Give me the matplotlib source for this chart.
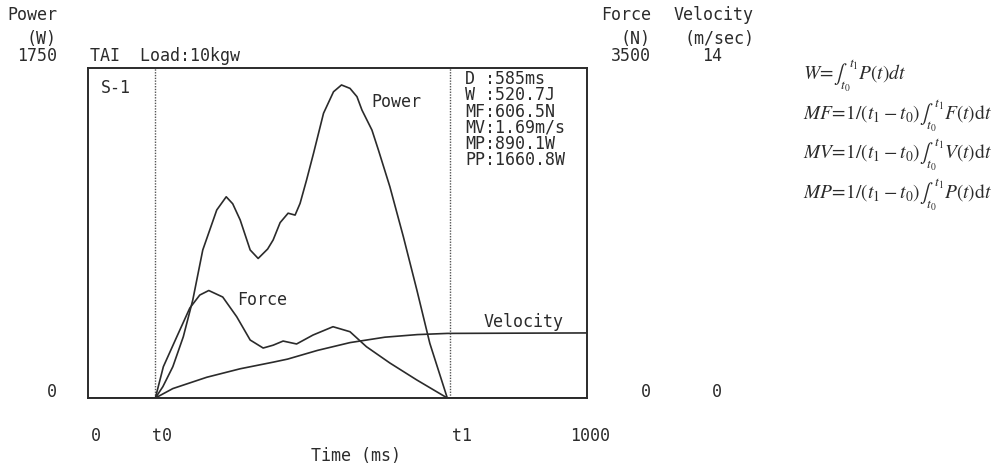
import matplotlib
matplotlib.use("Agg")
import matplotlib.pyplot as plt

plt.rcParams['mathtext.fontset'] = 'stix'

# ---- data ----
t0, t1 = 135, 720
power_t = [0, 135, 150, 170, 191, 210, 230, 258, 277, 290, 305, 325, 341, 360, 371, 385, 401, 415, 425, 438, 452, 472, 492, 508, 525, 539, 549, 569, 582, 605, 632, 659, 685, 720, 1000]
power_w = [0, 0, 60, 166, 325, 520, 785, 997, 1067, 1030, 944, 785, 740, 790, 838, 930, 980, 970, 1032, 1156, 1298, 1510, 1624, 1660, 1642, 1598, 1527, 1421, 1315, 1120, 855, 573, 290, 0, 0]

force_t = [0, 135, 151, 178, 204, 224, 242, 270, 298, 325, 351, 371, 391, 418, 451, 491, 525, 558, 605, 659, 720, 1000]
force_n = [0, 0, 332, 650, 954, 1092, 1140, 1071, 862, 615, 530, 560, 604, 573, 668, 756, 703, 544, 371, 191, 0, 0]

vel_t = [0, 135, 170, 238, 305, 371, 400, 460, 525, 595, 660, 720, 850, 1000]
vel_v = [0, 0, 0.40, 0.88, 1.24, 1.52, 1.65, 2.02, 2.35, 2.58, 2.69, 2.74, 2.75, 2.76]

stats = ["D :585ms", "W :520.7J", "MF:606.5N", "MV:1.69m/s", "MP:890.1W", "PP:1660.8W"]
x_tick_labels = ["0", "t0", "t1", "1000"]
formulas = [r"$W\!=\!\int_{t_0}^{\,t_1}P(t)dt$",
            r"$MF\!=\!1/(t_1-t_0)\int_{t_0}^{\,t_1}F(t)\mathrm{d}t$",
            r"$MV\!=\!1/(t_1-t_0)\int_{t_0}^{\,t_1}V(t)\mathrm{d}t$",
            r"$MP\!=\!1/(t_1-t_0)\int_{t_0}^{\,t_1}P(t)\mathrm{d}t$"]

W, H = 998, 467
fig = plt.figure(figsize=(W / 100, H / 100), dpi=100)
fig.patch.set_facecolor("white")

mono = "DejaVu Sans Mono"
col = "#2b2b2b"
fs = 12


def ft(x, y, s, ha="left", va="center", **kw):
    kw.setdefault("family", mono)
    kw.setdefault("fontsize", fs)
    kw.setdefault("color", col)
    fig.text(x / W, 1 - y / H, s, ha=ha, va=va, **kw)


L, R, T, B = 88, 587, 68, 398
ax = fig.add_axes([L / W, 1 - B / H, (R - L) / W, (B - T) / H])
axf = ax.twinx()
axv = ax.twinx()
for a in (ax, axf, axv):
    a.set_xlim(0, 1000)
    a.set_xticks([])
    a.set_yticks([])
ax.set_ylim(0, 1750)
axf.set_ylim(0, 3500)
axv.set_ylim(0, 14)
for a in (axf, axv):
    for s in a.spines.values():
        s.set_visible(False)
for s in ax.spines.values():
    s.set_linewidth(1.4)
    s.set_color(col)

ax.axvline(t0, color="#555555", lw=1.0, ls=(0, (1, 1)))
ax.axvline(t1 + 6, color="#555555", lw=1.0, ls=(0, (1, 1)))

ax.plot(power_t, power_w, color=col, lw=1.2)
axf.plot(force_t, force_n, color=col, lw=1.2)
axv.plot(vel_t, vel_v, color=col, lw=1.2)

# header texts
ft(57, 15, "Power", ha="right")
ft(57, 39, "(W)", ha="right")
ft(57, 56, "1750", ha="right")
ft(57, 392, "0", ha="right")
ft(90, 56, "TAI  Load:10kgw")
ft(651, 15, "Force", ha="right")
ft(651, 39, "(N)", ha="right")
ft(651, 56, "3500", ha="right")
ft(651, 392, "0", ha="right")
ft(754, 15, "Velocity", ha="right")
ft(754, 39, "(m/sec)", ha="right")
ft(722, 56, "14", ha="right")
ft(722, 392, "0", ha="right")

# inside labels
ft(101, 88, "S-1")
ft(371, 102, "Power")
ft(237, 300, "Force")
ft(484, 322, "Velocity")
for i, s in enumerate(stats):
    ft(465, 79 + i * 16.3, s)

# x labels
xl_pos = [(91, "left"), (152, "left"), (452, "left"), (610, "right")]
for (x, ha), s in zip(xl_pos, x_tick_labels):
    ft(x, 436, s, ha=ha)
ft(356, 456, "Time (ms)", ha="center")

# formulas
for i, s in enumerate(formulas):
    fig.text(803 / W, 1 - (76 + i * 39.5) / H, s, ha="left", va="center",
             fontsize=14, color=col)

fig.savefig("out.png", dpi=100, facecolor="white")
